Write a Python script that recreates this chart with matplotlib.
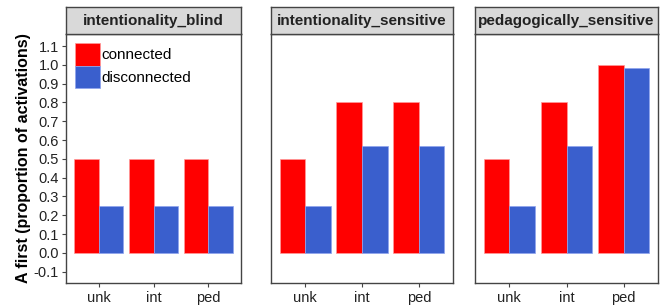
import matplotlib
matplotlib.use("Agg")
import matplotlib.pyplot as plt
import numpy as np

plt.rcParams['font.family'] = ['Liberation Sans', 'DejaVu Sans']

panels = ["intentionality_blind", "intentionality_sensitive", "pedagogically_sensitive"]
categories = ["unk", "int", "ped"]
connected = {
    "intentionality_blind": [0.5, 0.5, 0.5],
    "intentionality_sensitive": [0.5, 0.8, 0.8],
    "pedagogically_sensitive": [0.5, 0.8, 1.0],
}
disconnected = {
    "intentionality_blind": [0.25, 0.25, 0.25],
    "intentionality_sensitive": [0.25, 0.57, 0.57],
    "pedagogically_sensitive": [0.25, 0.57, 0.985],
}
yticks = [-0.1, 0.0, 0.1, 0.2, 0.3, 0.4, 0.5, 0.6, 0.7, 0.8, 0.9, 1.0, 1.1]
red = "#FF0000"
blue = "#3A5FCD"

W, H = 660, 305
fig = plt.figure(figsize=(W / 100, H / 100), dpi=100)

panel_x = [(66, 241), (271, 453), (475, 658)]
strip_top, panel_top, panel_bot = 7, 34, 283

x = np.arange(1, 4)
bw = 0.45
for i, (name, (x0, x1)) in enumerate(zip(panels, panel_x)):
    ax = fig.add_axes([x0 / W, (H - panel_bot) / H, (x1 - x0) / W, (panel_bot - panel_top) / H])
    ax.bar(x - bw / 2, connected[name], width=bw, color=red, edgecolor="#ff9999", linewidth=0.5, label="connected")
    ax.bar(x + bw / 2, disconnected[name], width=bw, color=blue, edgecolor="#8fa3ee", linewidth=0.5, label="disconnected")
    ax.set_xlim(0.4, 3.6)
    ax.set_ylim(-0.16, 1.164)
    ax.set_xticks(x)
    ax.set_xticklabels(categories, fontsize=10.5, color="#222222")
    ax.tick_params(axis='x', length=3, width=0.8, color="#444444", pad=3)
    for s in ax.spines.values():
        s.set_color("#444444")
        s.set_linewidth(1.0)
    if i == 0:
        ax.set_yticks(yticks)
        ax.set_yticklabels([f"{v:.1f}" for v in yticks], fontsize=10.5, color="#222222")
        ax.tick_params(axis='y', length=3, width=0.8, color="#444444", pad=2)
        ax.set_ylabel("A first (proportion of activations)", fontsize=11.5, fontweight="bold", labelpad=2)
        ax.legend(loc="upper left", bbox_to_anchor=(0.0, 1.0), frameon=False, fontsize=11,
                  handlelength=1.6, handleheight=1.9, handletextpad=0.1, labelspacing=0.0,
                  borderpad=0.0, borderaxespad=0.6)
    else:
        ax.set_yticks([])
    # strip
    sax = fig.add_axes([x0 / W, (H - panel_top) / H, (x1 - x0) / W, (panel_top - strip_top) / H])
    sax.set_facecolor("#D9D9D9")
    sax.set_xticks([]); sax.set_yticks([])
    for s in sax.spines.values():
        s.set_color("#444444")
        s.set_linewidth(1.0)
    sax.text(0.5, 0.5, name, ha="center", va="center", fontsize=11, fontweight="bold",
             color="#222222", transform=sax.transAxes)

fig.savefig("out.png", dpi=100)
